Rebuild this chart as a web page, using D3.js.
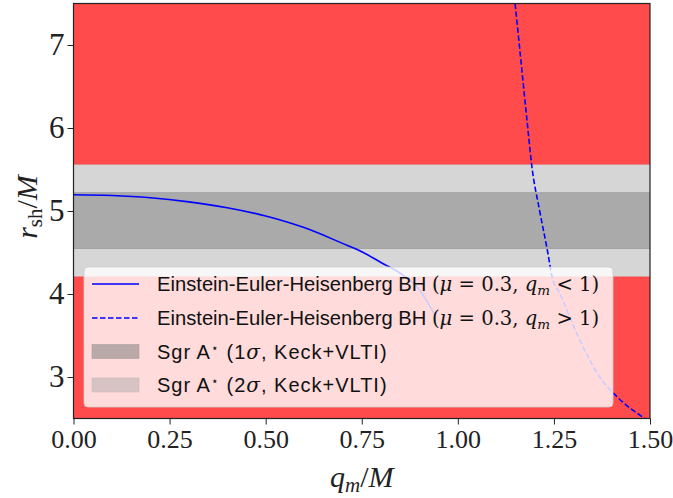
<!DOCTYPE html>
<html><head><meta charset="utf-8">
<script src="https://cdn.jsdelivr.net/npm/d3@7"></script>
<style>body{margin:0;background:#fff}svg{display:block}</style>
</head><body><svg id="c" width="673" height="498"></svg>
<script>
const xTicks = [0, 0.25, 0.5, 0.75, 1.0, 1.25, 1.5];
const xTickLabels = ["0.00", "0.25", "0.50", "0.75", "1.00", "1.25", "1.50"];
const yTicks = [3, 4, 5, 6, 7];
const sigma1 = [4.55, 5.22];
const sigma2 = [4.21, 5.56];
const qSolid = [0, 0.1, 0.2, 0.3, 0.4, 0.5, 0.6, 0.7, 0.75, 0.8, 0.85, 0.9, 0.94];
const rSolid = [5.196, 5.187, 5.16, 5.11, 5.04, 4.94, 4.80, 4.61, 4.51, 4.38, 4.25, 4.05, 3.75];
const qDashed = [1.149, 1.160, 1.182, 1.192, 1.213, 1.234, 1.245, 1.266, 1.312, 1.369, 1.417, 1.487];
const rDashed = [7.5, 7.0, 6.0, 5.56, 5.0, 4.5, 4.21, 4.0, 3.5, 3.0, 2.75, 2.5];

const svg = d3.select("#c");
const x = d3.scaleLinear().domain([0, 1.5]).range([73.5, 650]);
const y = d3.scaleLinear().domain([2.5, 7.5]).range([418.5, 3.5]);
const [x0, x1] = x.range(), [yb, yt] = y.range();

// excluded regions (red)
svg.append("rect").attr("x", x0).attr("width", x1 - x0)
  .attr("y", y(7.5)).attr("height", y(sigma2[1]) - y(7.5)).attr("fill", "#ff4b4b");
svg.append("rect").attr("x", x0).attr("width", x1 - x0)
  .attr("y", y(sigma2[0])).attr("height", y(2.5) - y(sigma2[0])).attr("fill", "#ff4b4b");
svg.append("line").attr("x1", x0).attr("x2", x1).attr("y1", y(sigma2[1])).attr("y2", y(sigma2[1]))
  .attr("stroke", "#f03a3a").attr("stroke-width", 1);
svg.append("line").attr("x1", x0).attr("x2", x1).attr("y1", y(sigma2[0])).attr("y2", y(sigma2[0]))
  .attr("stroke", "#f03a3a").attr("stroke-width", 1);
// 2 sigma band
svg.append("rect").attr("x", x0).attr("width", x1 - x0)
  .attr("y", y(sigma2[1])).attr("height", y(sigma2[0]) - y(sigma2[1])).attr("fill", "#d6d6d6");
// 1 sigma band
svg.append("rect").attr("x", x0).attr("width", x1 - x0)
  .attr("y", y(sigma1[1])).attr("height", y(sigma1[0]) - y(sigma1[1])).attr("fill", "#aaaaaa");
svg.append("line").attr("x1", x0).attr("x2", x1).attr("y1", y(sigma1[1])).attr("y2", y(sigma1[1]))
  .attr("stroke", "#a0a0a0");
svg.append("line").attr("x1", x0).attr("x2", x1).attr("y1", y(sigma1[0])).attr("y2", y(sigma1[0]))
  .attr("stroke", "#a0a0a0");

svg.append("clipPath").attr("id", "pc").append("rect")
  .attr("x", x0).attr("y", yt).attr("width", x1 - x0).attr("height", yb - yt);

const line = d3.line().x(d => x(d[0])).y(d => y(d[1])).curve(d3.curveMonotoneX);
svg.append("path").datum(qSolid.map((q, i) => [q, rSolid[i]]))
  .attr("d", line).attr("fill", "none").attr("stroke", "#0000ff").attr("stroke-width", 1.6)
  .attr("clip-path", "url(#pc)");
svg.append("path").datum(qDashed.map((q, i) => [q, rDashed[i]]))
  .attr("d", line).attr("fill", "none").attr("stroke", "#0000ff").attr("stroke-width", 1.6)
  .attr("stroke-dasharray", "5.5,2.5").attr("clip-path", "url(#pc)");

// legend
const lg = svg.append("g");
lg.append("rect").attr("x", 84).attr("y", 267).attr("width", 529).attr("height", 140)
  .attr("rx", 4).attr("fill", "#ffffff").attr("fill-opacity", 0.8)
  .attr("stroke", "#cccccc").attr("stroke-opacity", 0.8);
const rows = [284, 318, 351.5, 385];
const hx0 = 92, hx1 = 139, tx = 157;
lg.append("line").attr("x1", hx0).attr("x2", hx1).attr("y1", rows[0]).attr("y2", rows[0])
  .attr("stroke", "#0000ff").attr("stroke-width", 1.6);
lg.append("line").attr("x1", hx0).attr("x2", hx1).attr("y1", rows[1]).attr("y2", rows[1])
  .attr("stroke", "#0000ff").attr("stroke-width", 1.6).attr("stroke-dasharray", "5.5,2.5");
lg.append("rect").attr("x", hx0).attr("y", rows[2] - 7).attr("width", hx1 - hx0).attr("height", 14)
  .attr("fill", "#b9a9a9").attr("stroke", "#ad9d9d").attr("stroke-width", 0.6);
lg.append("rect").attr("x", hx0).attr("y", rows[3] - 7).attr("width", hx1 - hx0).attr("height", 14)
  .attr("fill", "#d7c3c3").attr("stroke", "#cbb7b7").attr("stroke-width", 0.6);

const sans = "'Liberation Sans', Arial, sans-serif";
const serif = "'DejaVu Serif', serif";
const tserif = "'Liberation Serif', 'Times New Roman', serif";
function mathRow(yy, op) {
  const t = lg.append("text").attr("x", tx).attr("y", yy + 7).attr("font-size", 19.6).attr("fill", "#111");
  t.append("tspan").attr("font-family", sans).attr("font-size", 20.2).text("Einstein-Euler-Heisenberg BH ");
  t.append("tspan").attr("font-family", serif).text("(");
  t.append("tspan").attr("font-family", serif).attr("font-style", "italic").text("μ");
  t.append("tspan").attr("font-family", serif).text(" = 0.3, ");
  t.append("tspan").attr("font-family", serif).attr("font-style", "italic").text("q");
  t.append("tspan").attr("font-family", serif).attr("font-style", "italic").attr("font-size", 13.5).attr("dy", 4).text("m");
  t.append("tspan").attr("font-family", serif).attr("dy", -4).text(" " + op + " 1)");
}
mathRow(rows[0], "<");
mathRow(rows[1], ">");
function sgrRow(yy, n) {
  const t = lg.append("text").attr("x", tx).attr("y", yy + 7).attr("font-size", 20).attr("fill", "#111")
    .attr("font-family", sans).attr("letter-spacing", 1);
  t.append("tspan").text("Sgr A");
  t.append("tspan").attr("font-size", 12).attr("dy", -7).text("⋆");
  t.append("tspan").attr("dy", 7).text(" (" + n);
  t.append("tspan").attr("font-family", serif).attr("font-style", "italic").text("σ");
  t.append("tspan").text(", Keck+VLTI)");
}
sgrRow(rows[2], "1");
sgrRow(rows[3], "2");

// axes
const ax = svg.append("g").attr("transform", `translate(0,${yb})`)
  .call(d3.axisBottom(x).tickValues(xTicks).tickFormat((d, i) => xTickLabels[i]).tickSize(6).tickPadding(5));
const ay = svg.append("g").attr("transform", `translate(${x0},0)`)
  .call(d3.axisLeft(y).tickValues(yTicks).tickFormat(d3.format("d")).tickSize(6).tickPadding(3));
[ax, ay].forEach(a => {
  a.select(".domain").remove();
  a.selectAll("line").attr("stroke", "#222").attr("stroke-width", 1);
  a.selectAll("text").attr("font-family", tserif).attr("font-size", 26).attr("fill", "#222");
});
ay.selectAll("text").attr("font-size", 31);
svg.append("rect").attr("x", x0).attr("y", yt).attr("width", x1 - x0).attr("height", yb - yt)
  .attr("fill", "none").attr("stroke", "#222").attr("stroke-width", 1.2);

// axis labels
const xl = svg.append("text").attr("x", (x0 + x1) / 2).attr("y", 487).attr("text-anchor", "middle")
  .attr("font-family", tserif).attr("font-size", 30).attr("fill", "#222");
xl.append("tspan").attr("font-style", "italic").text("q");
xl.append("tspan").attr("font-style", "italic").attr("font-size", 21).attr("dy", 5).text("m");
xl.append("tspan").attr("dy", -5).text("/");
xl.append("tspan").attr("font-style", "italic").text("M");

const yl = svg.append("text").attr("transform", `translate(37,207) rotate(-90)`)
  .attr("text-anchor", "middle").attr("font-family", tserif).attr("font-size", 30).attr("fill", "#222");
yl.append("tspan").attr("font-style", "italic").text("r");
yl.append("tspan").attr("font-size", 21).attr("dy", 5).text("sh");
yl.append("tspan").attr("dy", -5).text("/");
yl.append("tspan").attr("font-style", "italic").text("M");
</script></body></html>
